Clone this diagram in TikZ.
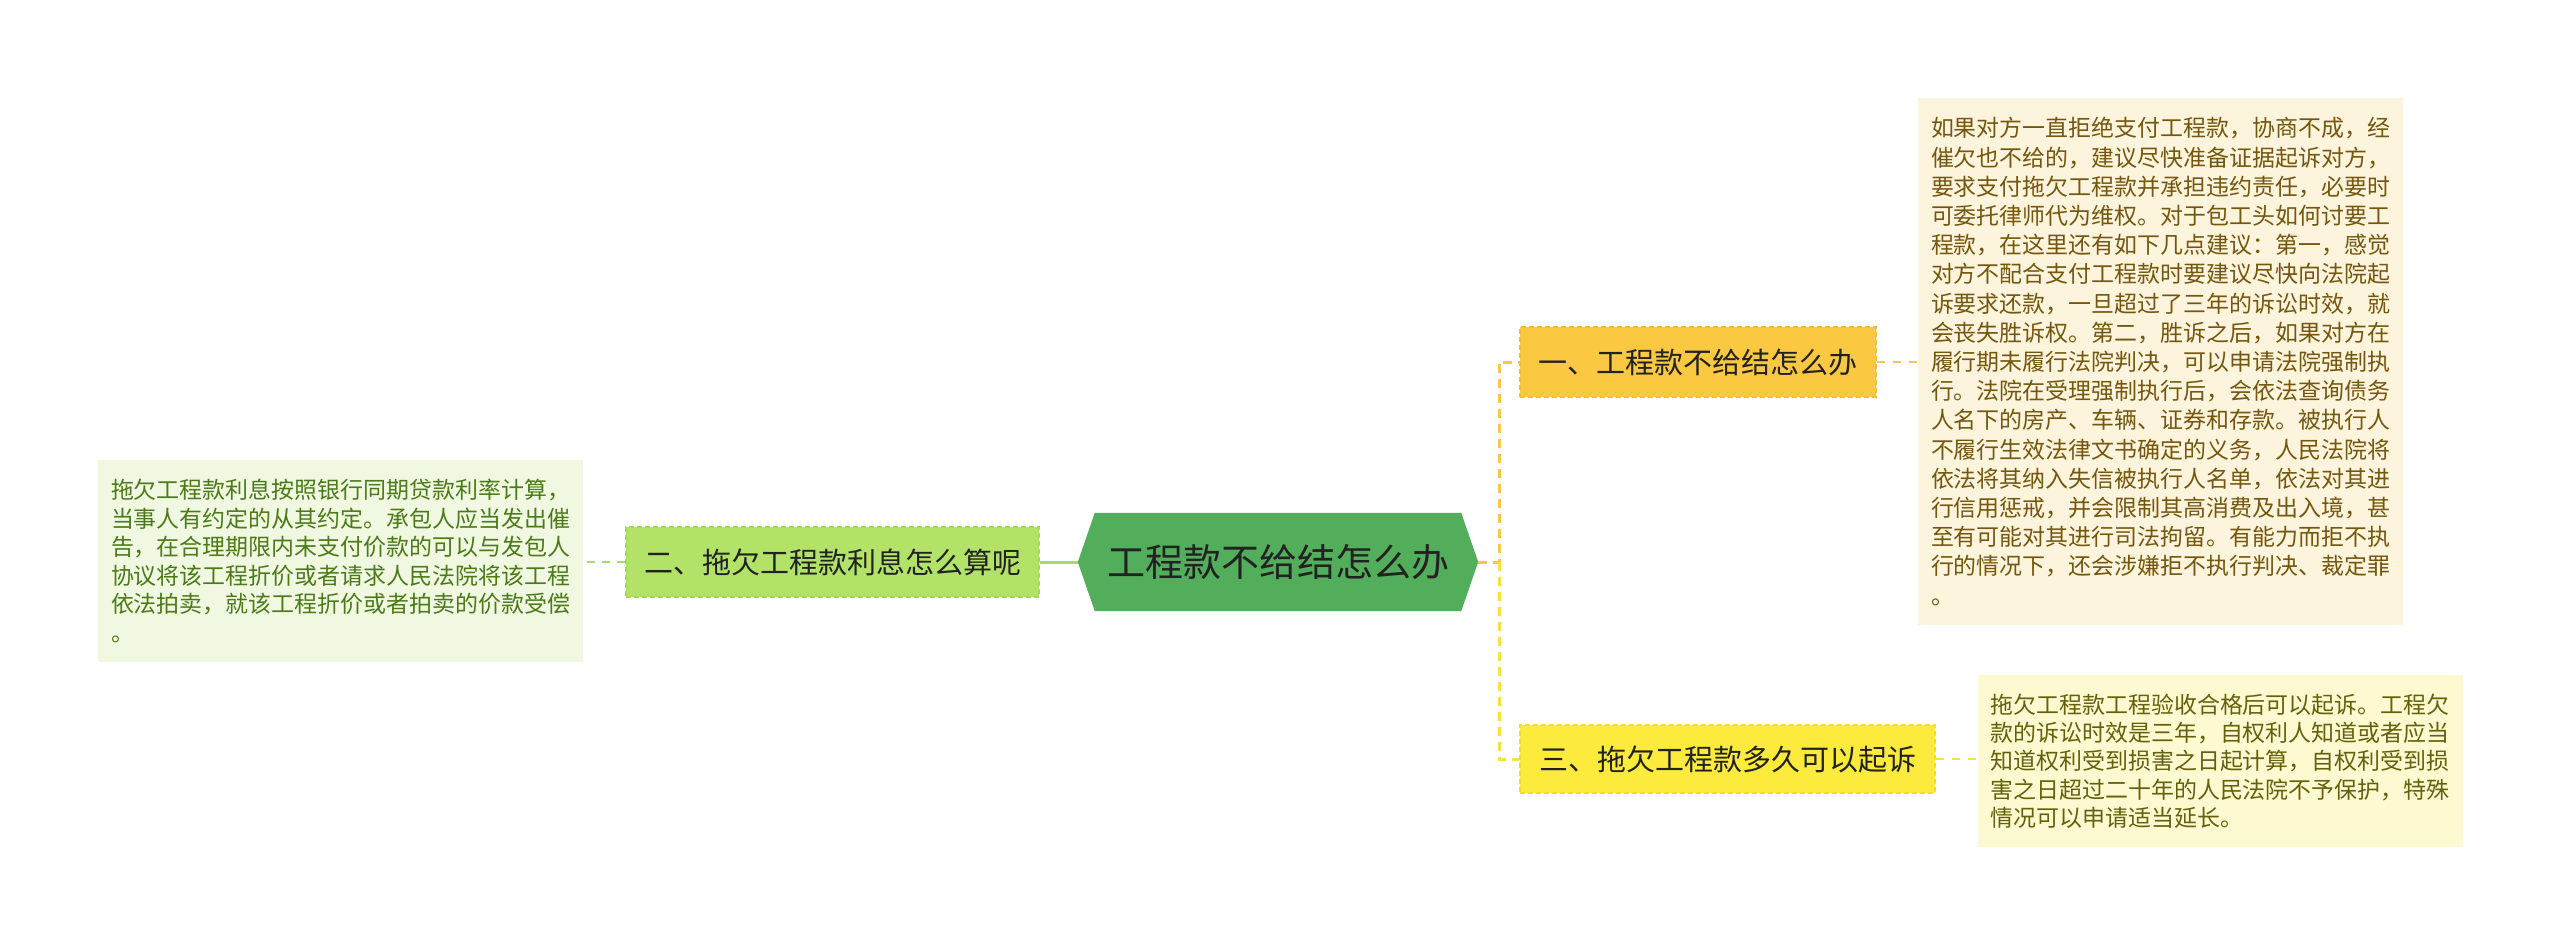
\documentclass[tikz,border=0pt]{standalone}
\usepackage{fontspec}
\newfontfamily\cjk{Noto Sans CJK SC}
\usetikzlibrary{backgrounds}
\definecolor{hexg}{HTML}{52AE5B}
\definecolor{lbfill}{HTML}{B2E268}
\definecolor{lbdraw}{HTML}{A3D85A}
\definecolor{bafill}{HTML}{FAC841}
\definecolor{badraw}{HTML}{F3BE35}
\definecolor{bcfill}{HTML}{FCEA3C}
\definecolor{bcdraw}{HTML}{F4DE2A}
\definecolor{trfill}{HTML}{FDF4DD}
\definecolor{trtext}{HTML}{74570D}
\definecolor{brfill}{HTML}{FDFAD2}
\definecolor{brtext}{HTML}{65600A}
\definecolor{ltfill}{HTML}{F0F8E2}
\definecolor{lttext}{HTML}{4B7A17}
\definecolor{darktext}{HTML}{222222}
\definecolor{lgline}{HTML}{A8DA6C}
\definecolor{goldline}{HTML}{F6C84A}
\definecolor{yelline}{HTML}{F5E33C}
\begin{document}
\begin{tikzpicture}[x=1pt,y=-1pt,
  hexnode/.style={inner sep=0pt, minimum width=366pt, minimum height=98pt,
    font=\cjk\fontsize{38}{42}\selectfont, text=darktext},
  branch/.style={inner sep=0pt, line width=1.5pt, dash pattern=on 5pt off 3pt,
    font=\cjk\fontsize{29}{32}\selectfont, text=darktext},
  tbox/.style={inner sep=0pt, align=left, minimum width=485pt},
  greenline/.style={draw=lgline, line width=3pt},
  greendash/.style={draw=lgline, line width=2.5pt, dash pattern=on 8pt off 7pt},
  golddash/.style={draw=goldline, line width=3pt, dash pattern=on 9pt off 6pt},
  golddashthin/.style={draw=goldline, line width=2.5pt, dash pattern=on 8pt off 8pt},
  yeldash/.style={draw=yelline, line width=3pt, dash pattern=on 9pt off 6pt},
  yeldashthin/.style={draw=yelline, line width=2.5pt, dash pattern=on 8pt off 8pt}]
\useasboundingbox (0,0) rectangle (2560,945);
\begin{scope}[on background layer]
\fill[white] (0,0) rectangle (2560,945);
\end{scope}

% central node
\node[hexnode] (c) at (1278,562) {工程款不给结怎么办};
\coordinate (cL) at ([xshift=-17pt]c.west);
\coordinate (cR) at ([xshift=17pt]c.east);
\begin{scope}[on background layer]
\fill[hexg] (c.north west) -- (c.north east) -- (cR) -- (c.south east)
  -- (c.south west) -- (cL) -- cycle;
\end{scope}

% branch nodes
\node[branch, fill=lbfill, draw=lbdraw, minimum width=413pt, minimum height=70pt]
  (lb) at (832.5,562) {二、拖欠工程款利息怎么算呢};
\node[branch, fill=bafill, draw=badraw, minimum width=356pt, minimum height=70pt]
  (ba) at (1698,362) {一、工程款不给结怎么办};
\node[branch, fill=bcfill, draw=bcdraw, minimum width=415pt, minimum height=68pt]
  (bc) at (1727.5,759) {三、拖欠工程款多久可以起诉};

% text boxes
\node[tbox, fill=trfill, text=trtext, minimum height=527pt,
  font=\cjk\fontsize{22.95}{29.2}\selectfont] (tr) at (2160.5,361.5) {%
如果对方一直拒绝支付工程款，协商不成，经\\
催欠也不给的，建议尽快准备证据起诉对方，\\
要求支付拖欠工程款并承担违约责任，必要时\\
可委托律师代为维权。对于包工头如何讨要工\\
程款，在这里还有如下几点建议：第一，感觉\\
对方不配合支付工程款时要建议尽快向法院起\\
诉要求还款，一旦超过了三年的诉讼时效，就\\
会丧失胜诉权。第二，胜诉之后，如果对方在\\
履行期未履行法院判决，可以申请法院强制执\\
行。法院在受理强制执行后，会依法查询债务\\
人名下的房产、车辆、证券和存款。被执行人\\
不履行生效法律文书确定的义务，人民法院将\\
依法将其纳入失信被执行人名单，依法对其进\\
行信用惩戒，并会限制其高消费及出入境，甚\\
至有可能对其进行司法拘留。有能力而拒不执\\
行的情况下，还会涉嫌拒不执行判决、裁定罪\\
。};

\node[tbox, fill=brfill, text=brtext, minimum height=172pt,
  font=\cjk\fontsize{22.95}{28.3}\selectfont] (br) at (2220,761) {%
拖欠工程款工程验收合格后可以起诉。工程欠\\
款的诉讼时效是三年，自权利人知道或者应当\\
知道权利受到损害之日起计算，自权利受到损\\
害之日超过二十年的人民法院不予保护，特殊\\
情况可以申请适当延长。};

\node[tbox, fill=ltfill, text=lttext, minimum height=202pt,
  font=\cjk\fontsize{22.95}{28.6}\selectfont] (lt) at (340.5,561) {%
拖欠工程款利息按照银行同期贷款利率计算，\\
当事人有约定的从其约定。承包人应当发出催\\
告，在合理期限内未支付价款的可以与发包人\\
协议将该工程折价或者请求人民法院将该工程\\
依法拍卖，就该工程折价或者拍卖的价款受偿\\
。};

% connectors
\draw[greenline] (cL) -- (lb.east);
\draw[greendash] (lb.west) -- (lb.west -| lt.east);
\coordinate (tk) at ([xshift=21pt]cR);
\draw[golddash] (cR) -- (tk) |- (ba.west);
\draw[yeldash] (tk) |- (bc.west);
\draw[golddashthin] (ba.east) -- (ba.east -| tr.west);
\draw[yeldashthin] (bc.east) -- (bc.east -| br.west);
\end{tikzpicture}
\end{document}
